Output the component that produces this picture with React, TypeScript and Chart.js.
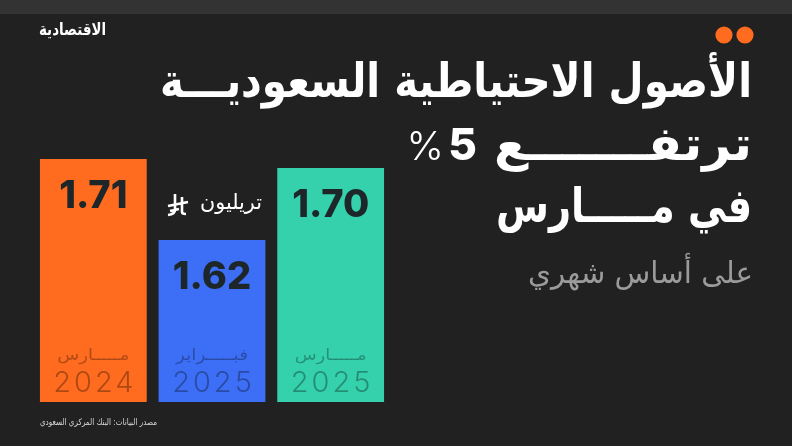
import React, { useEffect, useRef } from "react";
import { Chart, registerables } from "chart.js";

Chart.register(...registerables);

// Reserve assets, trillion riyals
const months = ["مـــــارس", "فبـــــراير", "مـــــارس"];
const years = ["2024", "2025", "2025"];
const reserves = [1.71, 1.62, 1.7];

const titleLines = ["الأصول الاحتياطية السعوديـــة", "ترتفـــــــع", "في مـــــارس"];
const changeValue = "5";
const subtitle = "على أساس شهري";
const unitText = "تريليون";
const brand = "الاقتصادية";
const sourceText = "مصدر البيانات: البنك المركزي السعودي";

const BG = "#212121";
const BAND = "#333333";
const ORANGE = "#FF6B1F";
const barColors = [ORANGE, "#3D6FF6", "#35D1AD"];
const ARABIC = "'DejaVu Sans', sans-serif";

function drawArabic(
  ctx: CanvasRenderingContext2D,
  text: string,
  right: number,
  baseline: number,
  font: string,
  color: string,
  width?: number
) {
  ctx.save();
  ctx.font = font;
  ctx.fillStyle = color;
  ctx.direction = "rtl";
  ctx.textAlign = "right";
  ctx.textBaseline = "alphabetic";
  const w = ctx.measureText(text).width;
  const s = width ? width / w : 1;
  ctx.translate(right, baseline);
  ctx.scale(s, 1);
  ctx.fillText(text, 0, 0);
  ctx.restore();
}

function drawRiyal(ctx: CanvasRenderingContext2D, x: number, y: number) {
  // simplified riyal sign, x/y = top-left
  ctx.save();
  ctx.strokeStyle = "#ffffff";
  ctx.lineWidth = 2.6;
  ctx.lineCap = "butt";
  ctx.beginPath();
  ctx.moveTo(x + 8, y + 1);
  ctx.lineTo(x + 8, y + 17);
  ctx.quadraticCurveTo(x + 8, y + 21, x + 1, y + 22);
  ctx.moveTo(x + 15, y + 4);
  ctx.lineTo(x + 15, y + 19);
  ctx.quadraticCurveTo(x + 15, y + 21, x + 19, y + 21);
  ctx.moveTo(x + 1, y + 13);
  ctx.lineTo(x + 21, y + 9);
  ctx.moveTo(x + 3, y + 18);
  ctx.lineTo(x + 12, y + 16);
  ctx.stroke();
  ctx.restore();
}

const decorPlugin = {
  id: "decor",
  beforeDraw(chart: any) {
    const ctx: CanvasRenderingContext2D = chart.ctx;
    const { width, height } = chart;
    ctx.save();
    ctx.fillStyle = BG;
    ctx.fillRect(0, 0, width, height);
    ctx.fillStyle = BAND;
    ctx.fillRect(0, 0, width, 14);
    ctx.restore();
  },
  afterDatasetsDraw(chart: any) {
    const ctx: CanvasRenderingContext2D = chart.ctx;
    const meta = chart.getDatasetMeta(0);
    const bottom = chart.chartArea.bottom;

    meta.data.forEach((bar: any, i: number) => {
      const x = bar.x;
      // value
      ctx.save();
      ctx.font = "800 38px Inter, sans-serif";
      ctx.fillStyle = "#1d2629";
      ctx.textAlign = "center";
      ctx.textBaseline = "middle";
      ctx.fillText(reserves[i].toFixed(2), x, bar.y + 38);
      ctx.restore();

      // month
      const mw = 72;
      drawArabic(ctx, months[i], x + mw / 2, bottom - 42, `16px ${ARABIC}`, "rgba(0,0,0,0.3)", mw);

      // year
      ctx.save();
      ctx.font = "300 29px Inter, sans-serif";
      (ctx as any).letterSpacing = "3px";
      ctx.fillStyle = "rgba(0,0,0,0.32)";
      ctx.textAlign = "center";
      ctx.textBaseline = "alphabetic";
      ctx.fillText(years[i], x + 1.5, bottom - 10);
      ctx.restore();
    });
  },
  afterDraw(chart: any) {
    const ctx: CanvasRenderingContext2D = chart.ctx;

    // brand
    drawArabic(ctx, brand, 106, 35, `bold 17px ${ARABIC}`, "#ffffff", 67);

    // dots
    ctx.save();
    ctx.fillStyle = ORANGE;
    [724, 745].forEach((cx) => {
      ctx.beginPath();
      ctx.arc(cx, 35, 8.6, 0, Math.PI * 2);
      ctx.fill();
    });
    ctx.restore();

    // headline
    const titleFont = `bold 47px ${ARABIC}`;
    drawArabic(ctx, titleLines[0], 752, 97, titleFont, "#ffffff", 592);
    drawArabic(ctx, titleLines[1], 752, 160, titleFont, "#ffffff", 258);
    ctx.save();
    ctx.fillStyle = "#ffffff";
    ctx.textBaseline = "alphabetic";
    ctx.textAlign = "right";
    ctx.font = "800 44px Inter, sans-serif";
    ctx.fillText(changeValue, 477, 160);
    ctx.font = "300 40px Inter, sans-serif";
    ctx.fillText("%", 444, 160);
    ctx.restore();
    drawArabic(ctx, titleLines[2], 752, 222, titleFont, "#ffffff", 256);

    // subtitle
    drawArabic(ctx, subtitle, 753, 283, `30px ${ARABIC}`, "#9b9b9b", 225);

    // unit
    drawArabic(ctx, unitText, 262, 209, `21px ${ARABIC}`, "#ffffff", 62);
    drawRiyal(ctx, 167, 193);

    // source
    drawArabic(ctx, sourceText, 157, 425, `9px ${ARABIC}`, "#d8d8d8", 117);
  },
};

export default function App() {
  const ref = useRef<HTMLCanvasElement>(null);

  useEffect(() => {
    if (!ref.current) return;
    const chart = new Chart(ref.current, {
      type: "bar",
      data: {
        labels: months.map((m, i) => `${m} ${years[i]}`),
        datasets: [
          {
            data: reserves,
            backgroundColor: barColors,
            borderWidth: 0,
            barPercentage: 0.9,
            categoryPercentage: 1,
          },
        ],
      },
      options: {
        responsive: false,
        animation: false,
        devicePixelRatio: 1,
        layout: { padding: { left: 34, right: 402, top: 150, bottom: 44 } },
        plugins: { legend: { display: false }, tooltip: { enabled: false } },
        scales: {
          x: { display: false },
          y: { display: false, min: 1.44, max: 1.72 },
        },
      },
      plugins: [decorPlugin],
    });
    return () => chart.destroy();
  }, []);

  return (
    <div style={{ position: "fixed", left: 0, top: 0, width: 792, height: 446, background: BG }}>
      <canvas ref={ref} width={792} height={446} style={{ display: "block" }} />
    </div>
  );
}
